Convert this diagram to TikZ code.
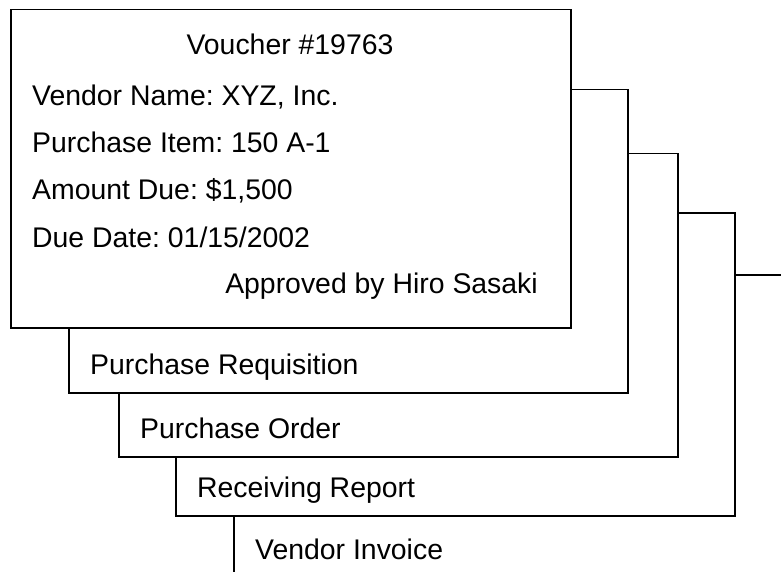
\documentclass[tikz,border=0pt]{standalone}
\usepackage{fontspec}
\setmainfont{Liberation Sans}
\frenchspacing
\begin{document}
\begin{tikzpicture}[x=1pt,y=-1pt,
    card/.style={draw,fill=white,line width=1.5pt,anchor=north west,
                 minimum width=559pt,minimum height=303pt,inner sep=0pt},
    entry/.style={anchor=base west,inner sep=0pt,
                  font=\fontsize{28.4}{34}\selectfont}]
  \useasboundingbox (0,0) rectangle (781,572);
  \clip (0,0) rectangle (781,572);
  % sheets from the back to the front
  \foreach \x/\y/\doc/\title in {233/274/invoice/Vendor Invoice,
                                 175/212/report/Receiving Report,
                                 118/153/order/Purchase Order,
                                 68/89/req/Purchase Requisition}{
    \node[card,name=\doc] at (\x,\y){};
    \node[entry,name=\doc-title] at ([shift={(22,-19)}]\doc.south west){\title};
  }
  \node[card,minimum width=560pt,minimum height=318pt,name=voucher] at (10,9){};
  \node[entry,anchor=base,name=voucher-no] at (290,55){Voucher \#19763};
  \foreach \line [count=\i] in {{Vendor Name: XYZ, Inc.},{Purchase Item: 150 A-1},
                                {Amount Due: \$1,500},{Due Date: 01/15/2002}}{
    \node[entry,name=voucher-\i] at (32,58+47.3*\i){\line};
  }
  \node[entry,anchor=base east,name=voucher-sign] at (538,293){Approved by Hiro Sasaki};
\end{tikzpicture}
\end{document}
